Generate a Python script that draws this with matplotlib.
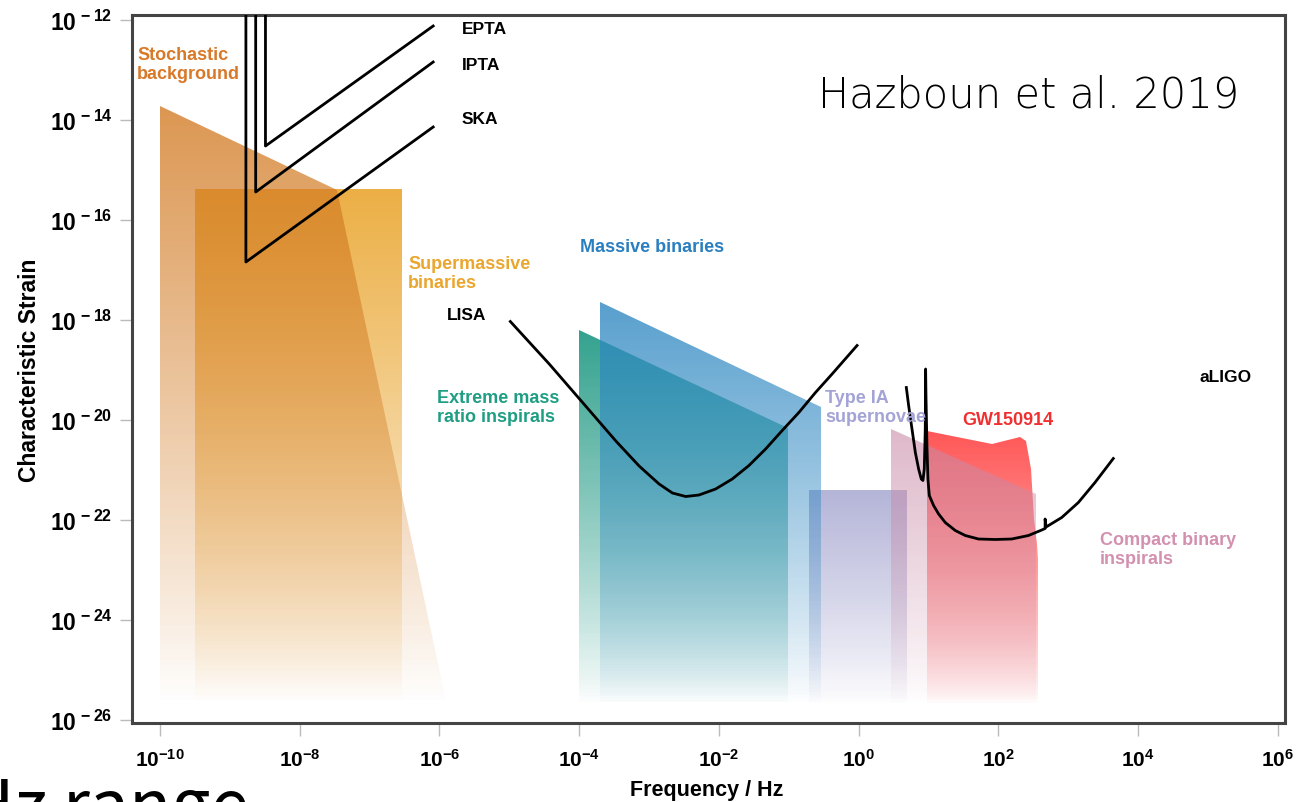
import numpy as np
import matplotlib
matplotlib.use("Agg")
import matplotlib.pyplot as plt
from matplotlib.colors import LinearSegmentedColormap, to_rgb
from matplotlib.patches import Polygon
from matplotlib.ticker import FixedLocator, FuncFormatter

plt.rcParams['font.family'] = ['Liberation Sans', 'DejaVu Sans']
plt.rcParams['mathtext.fontset'] = 'custom'
plt.rcParams['mathtext.rm'] = 'Liberation Sans:bold'
plt.rcParams['mathtext.bf'] = 'Liberation Sans:bold'
plt.rcParams['mathtext.it'] = 'Liberation Sans:bold'

# ---- data (log10 of frequency [Hz] and log10 of characteristic strain) ----
floor = -26.0

stoch_logf = [-10.0, -7.47, -5.85, -10.0]
stoch_logh = [-13.72, -15.40, floor, floor]

smbh_logf = [-9.5, -6.53, -6.53, -9.5]
smbh_logh = [-15.38, -15.38, floor, floor]

emri_logf = [-4.0, -1.01, -1.01, -4.0]
emri_logh = [-18.2, -20.16, floor, floor]

mbh_logf = [-3.7, -0.54, -0.54, -3.7]
mbh_logh = [-17.64, -19.74, floor, floor]

sn_logf = [-0.71, 0.69, 0.69, -0.71]
sn_logh = [-21.4, -21.4, floor, floor]

cbc_logf = [0.46, 2.54, 2.54, 0.46]
cbc_logh = [-20.18, -21.48, floor, floor]

gw_logf = [0.97, 1.90, 2.14, 2.31, 2.40, 2.46, 2.51, 2.55, 2.57, 2.57, 0.97]
gw_logh = [-20.22, -20.48, -20.40, -20.34, -20.42, -20.98, -21.98, -22.48, -22.78, floor, floor]

# pulsar timing arrays
epta_logf = [-8.49, -8.49, -6.09]
epta_logh = [-11.8, -14.52, -12.12]
ipta_logf = [-8.63, -8.63, -6.09]
ipta_logh = [-11.8, -15.44, -12.84]
ska_logf = [-8.77, -8.77, -6.09]
ska_logh = [-11.8, -16.84, -14.14]

lisa_logf = [-4.986, -4.429, -3.952, -3.476, -3.143, -2.857, -2.667, -2.476, -2.286,
             -2.048, -1.810, -1.571, -1.333, -1.095, -0.857, -0.619, -0.381, -0.024]
lisa_logh = [-18.03, -18.88, -19.65, -20.42, -20.92, -21.28, -21.46, -21.53, -21.50,
             -21.38, -21.18, -20.91, -20.58, -20.21, -19.85, -19.45, -19.08, -18.51]

aligo_logf = [0.681, 0.714, 0.762, 0.810, 0.857, 0.895, 0.919, 0.938, 0.952, 0.957,
              0.962, 0.976, 0.990, 1.010, 1.071, 1.143, 1.238, 1.381, 1.524, 1.714,
              1.952, 2.190, 2.429, 2.619, 2.667, 2.667, 2.681, 2.905, 3.143, 3.381, 3.643]
aligo_logh = [-19.35, -19.71, -20.18, -20.65, -20.98, -21.18, -21.21, -20.98, -20.18, -18.98,
              -19.51, -20.51, -21.18, -21.51, -21.71, -21.88, -22.05, -22.21, -22.31, -22.38,
              -22.39, -22.38, -22.31, -22.20, -22.17, -21.98, -22.14, -21.95, -21.65, -21.25, -20.77]

x_ticks = [-10, -8, -6, -4, -2, 0, 2, 4, 6]
y_ticks = [-26, -24, -22, -20, -18, -16, -14, -12]

W, H = 1312, 803
fig = plt.figure(figsize=(W / 100, H / 100), dpi=100)
ax = fig.add_axes([132 / W, 1 - 724 / H, (1285 - 132) / W, (724 - 16) / H])
ax.set_xscale('log')
ax.set_yscale('log')
ax.set_xlim(10 ** -10.4, 10 ** 6.1)
ax.set_ylim(10 ** -26.06, 10 ** -11.9)


def region(logf, logh, color, a_top, gamma, z):
    xs = 10.0 ** np.array(logf)
    ys = 10.0 ** np.array(logh)
    poly = Polygon(np.column_stack([xs, ys]), closed=True, facecolor='none',
                   edgecolor='none', transform=ax.transData)
    ax.add_patch(poly)
    top = max(logh)
    yedges = 10.0 ** np.linspace(floor + 0.3, top, 121)
    xedges = np.array([xs.min(), xs.max()])
    t = np.linspace(0, 1, 120)[:, None] ** gamma
    r, g, b = to_rgb(color)
    cmap = LinearSegmentedColormap.from_list('g', [(r, g, b, 0.0), (r, g, b, a_top)])
    mesh = ax.pcolormesh(xedges, yedges, t, cmap=cmap, vmin=0, vmax=1,
                         shading='flat', zorder=z, linewidth=0, antialiased=False)
    mesh.set_clip_path(poly)


region(smbh_logf, smbh_logh, '#ebab3c', 0.95, 0.9, 1)
region(stoch_logf, stoch_logh, '#d27a22', 0.78, 0.9, 2)
region(emri_logf, emri_logh, '#1e9882', 0.9, 0.85, 1)
region(mbh_logf, mbh_logh, '#2f88c2', 0.8, 0.85, 2)
region(sn_logf, sn_logh, '#9c9ccc', 0.75, 0.85, 1)
region(cbc_logf, cbc_logh, '#c98aa6', 0.6, 0.85, 2)
region(gw_logf, gw_logh, '#ff3a3a', 0.85, 0.8, 1.5)

for lf, lh in [(epta_logf, epta_logh), (ipta_logf, ipta_logh), (ska_logf, ska_logh),
               (lisa_logf, lisa_logh), (aligo_logf, aligo_logh)]:
    ax.plot(10.0 ** np.array(lf), 10.0 ** np.array(lh), color='black', lw=2.0, zorder=5,
            solid_joinstyle='round')

# axes styling
for s in ax.spines.values():
    s.set_linewidth(2.2)
    s.set_color('#444444')
ax.xaxis.set_major_locator(FixedLocator([10.0 ** v for v in x_ticks]))
ax.yaxis.set_major_locator(FixedLocator([10.0 ** v for v in y_ticks]))
ax.xaxis.set_minor_locator(FixedLocator([]))
ax.yaxis.set_minor_locator(FixedLocator([]))
ax.xaxis.set_major_formatter(FuncFormatter(lambda v, p: r'$\mathbf{10^{%d}}$' % round(np.log10(v))))
ax.yaxis.set_major_formatter(FuncFormatter(lambda v, p: r'$\mathbf{10^{\,%d}}$' % round(np.log10(v))))
ax.tick_params(axis='both', direction='out', length=9, width=1, color='#bbbbbb')
ax.tick_params(axis='x', pad=9, labelsize=15)
ax.tick_params(axis='y', pad=5, labelsize=16.5)
ax.set_xlabel('Frequency / Hz', fontsize=15.5, fontweight='bold')
ax.set_ylabel('Characteristic Strain', fontsize=16.5, fontweight='bold')
ax.xaxis.set_label_coords((707 - 132) / 1153, (724 - 780) / 708)
ax.yaxis.set_label_coords((41 - 132) / 1153, 0.5)


def label(x, y, s, color, size=13):
    fig.text(x / W, 1 - y / H, s, color=color, fontsize=size, fontweight='bold',
             ha='left', va='center', linespacing=1.2)


label(137, 65, 'Stochastic\nbackground', '#d8792a')
label(408, 274, 'Supermassive\nbinaries', '#eaa62f')
label(580, 248, 'Massive binaries', '#2a7fc0')
label(437, 408, 'Extreme mass\nratio inspirals', '#1f9e84')
label(825, 408, 'Type IA\nsupernovae', '#a3a3d6')
label(962, 421, 'GW150914', '#f03030')
label(1100, 550, 'Compact binary\ninspirals', '#d391b0')
label(1200, 378, 'aLIGO', 'black', 12.5)
label(447, 316, 'LISA', 'black', 12.5)
label(462, 30, 'EPTA', 'black', 12.5)
label(462, 65, 'IPTA', 'black', 12.5)
label(462, 120, 'SKA', 'black', 12.5)

fig.text(818 / W, 1 - 95 / H, 'Hazboun et al. 2019', fontsize=30, fontfamily=['DejaVu Sans'],
         fontweight='light', ha='left', va='center')
fig.text(-36 / W, 1 - 830 / H, 'Hz range', fontsize=50, fontfamily=['Noto Sans CJK JP', 'DejaVu Sans'],
         ha='left', va='baseline')

fig.savefig('out.png', dpi=100)
